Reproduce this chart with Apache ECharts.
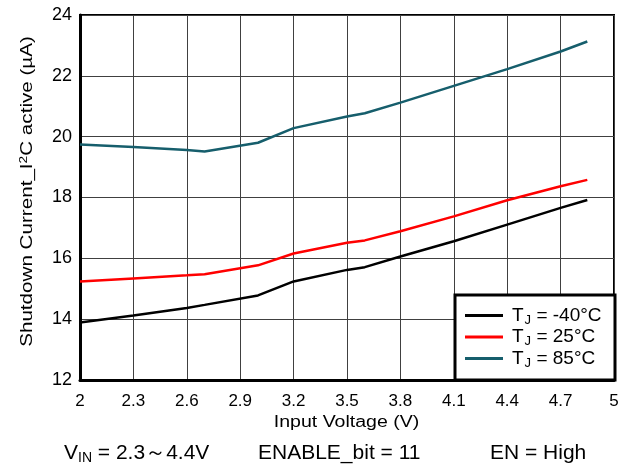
<!DOCTYPE html>
<html><head><meta charset="utf-8">
<script src="https://cdn.jsdelivr.net/npm/echarts@6/dist/echarts.min.js"></script>
<style>html,body{margin:0;padding:0;background:#fff}#c{width:618px;height:473px}</style>
</head><body><div id="c"></div>
<script>
const voltages = [2.0, 2.3, 2.6, 2.7, 3.0, 3.2, 3.5, 3.6, 3.8, 4.1, 4.4, 4.7, 4.85];
const tMinus40 = [13.89, 14.12, 14.37, 14.47, 14.78, 15.24, 15.62, 15.71, 16.06, 16.56, 17.11, 17.66, 17.92];
const t25 = [15.24, 15.34, 15.44, 15.48, 15.77, 16.16, 16.51, 16.59, 16.89, 17.38, 17.91, 18.37, 18.58];
const t85 = [19.74, 19.66, 19.56, 19.51, 19.80, 20.28, 20.66, 20.77, 21.12, 21.67, 22.22, 22.80, 23.13];
const seriesNames = ['T_J = -40°C', 'T_J = 25°C', 'T_J = 85°C'];
const xTicks = ['2', '2.3', '2.6', '2.9', '3.2', '3.5', '3.8', '4.1', '4.4', '4.7', '5'];
const yTicks = [12, 14, 16, 18, 20, 22, 24];
const xTitle = 'Input Voltage (V)';
const yTitle = ['Shutdown Current_I', '2', 'C active (µA)'];
const notes = ['V_IN = 2.3～4.4V', 'ENABLE_bit = 11', 'EN = High'];

const pair = (ys) => voltages.map((v, i) => [v, ys[i]]);
const colors = ['#000000', '#ff0000', '#165e6c'];
const font = '"Liberation Sans", Arial, sans-serif';
const vin = notes[0].split('_IN');

const chart = echarts.init(document.getElementById('c'));
chart.setOption({
  animation: false,
  backgroundColor: '#fff',
  grid: { left: 80, top: 15, right: 4, bottom: 93, outerBoundsMode: 'none', containLabel: false,
    show: true, borderColor: '#000', borderWidth: 2, backgroundColor: 'transparent' },
  xAxis: {
    type: 'value', min: 2, max: 5, interval: 0.3,
    axisLine: { show: true, onZero: false, lineStyle: { color: '#000', width: 3 } },
    axisTick: { show: false },
    splitLine: { show: true, lineStyle: { color: '#404040', width: 1 } },
    axisLabel: { color: '#000', fontSize: 17, fontFamily: font, margin: 13, showMaxLabel: true,
      formatter: (v) => { const i = Math.round((v - 2) / 0.3); return xTicks[i] !== undefined ? xTicks[i] : ''; } }
  },
  yAxis: {
    type: 'value', min: yTicks[0], max: yTicks[yTicks.length - 1], interval: 2,
    axisLine: { show: true, onZero: false, lineStyle: { color: '#000', width: 3 } },
    axisTick: { show: false },
    splitLine: { show: true, lineStyle: { color: '#404040', width: 1 } },
    axisLabel: { color: '#000', fontSize: 18, fontFamily: font, margin: 8 }
  },
  legend: {
    left: 465, top: 306, orient: 'vertical',
    padding: 0, itemGap: 1, itemWidth: 38, itemHeight: 3, icon: 'rect', z: 10,
    data: seriesNames,
    formatter: (n) => { const p = n.split('_J'); return '{a|' + p[0] + '}{sub|J}{a|' + p[1] + '}'; },
    textStyle: { color: '#000', fontSize: 19, fontFamily: font, padding: [0, 0, 0, 4],
      rich: { a: { fontSize: 19, fontFamily: font, color: '#000', lineHeight: 20 }, sub: { fontSize: 13, fontFamily: font, color: '#000', padding: [9, 0, 0, 1] } } }
  },
  series: [
    { name: seriesNames[0], type: 'line', data: pair(tMinus40), symbol: 'none', lineStyle: { color: colors[0], width: 2.5 }, itemStyle: { color: colors[0] } },
    { name: seriesNames[1], type: 'line', data: pair(t25), symbol: 'none', lineStyle: { color: colors[1], width: 2.5 }, itemStyle: { color: colors[1] } },
    { name: seriesNames[2], type: 'line', data: pair(t85), symbol: 'none', lineStyle: { color: colors[2], width: 2.5 }, itemStyle: { color: colors[2] } }
  ],
  graphic: [
    { type: 'rect', z: 5, shape: { x: 455, y: 295, width: 160, height: 85 }, style: { fill: '#fff', stroke: '#000', lineWidth: 3 } },
    { type: 'text', z: 6, x: 27.5, y: 191.5, rotation: Math.PI / 2, scaleX: 1.25,
      style: { text: '{a|' + yTitle[0] + '}{sup|' + yTitle[1] + '}{a|' + yTitle[2] + '}', align: 'center', verticalAlign: 'middle',
        fontSize: 16.5, fontFamily: font, fill: '#000',
        rich: { a: { fontSize: 16.5, fontFamily: font, fill: '#000' }, sup: { fontSize: 11, fontFamily: font, fill: '#000', padding: [0, 0, 8, 0] } } } },
    { type: 'text', z: 6, x: 346.5, y: 423, scaleX: 1.22,
      style: { text: xTitle, fontSize: 16, fontFamily: font, fill: '#000', align: 'center', verticalAlign: 'middle' } },
    { type: 'text', left: 64, top: 443, style: { text: '{a|' + vin[0] + '}{sub|IN}{a|' + vin[1] + '}', fontSize: 21, fontFamily: font, fill: '#000',
      rich: { a: { fontSize: 21, fontFamily: font, fill: '#000' }, sub: { fontSize: 14, fontFamily: font, fill: '#000', padding: [10, 0, 0, 0] } } } },
    { type: 'text', left: 258, top: 443, style: { text: notes[1], fontSize: 21, fontFamily: font, fill: '#000' } },
    { type: 'text', left: 490, top: 443, style: { text: notes[2], fontSize: 21, fontFamily: font, fill: '#000' } }
  ]
});
</script></body></html>
